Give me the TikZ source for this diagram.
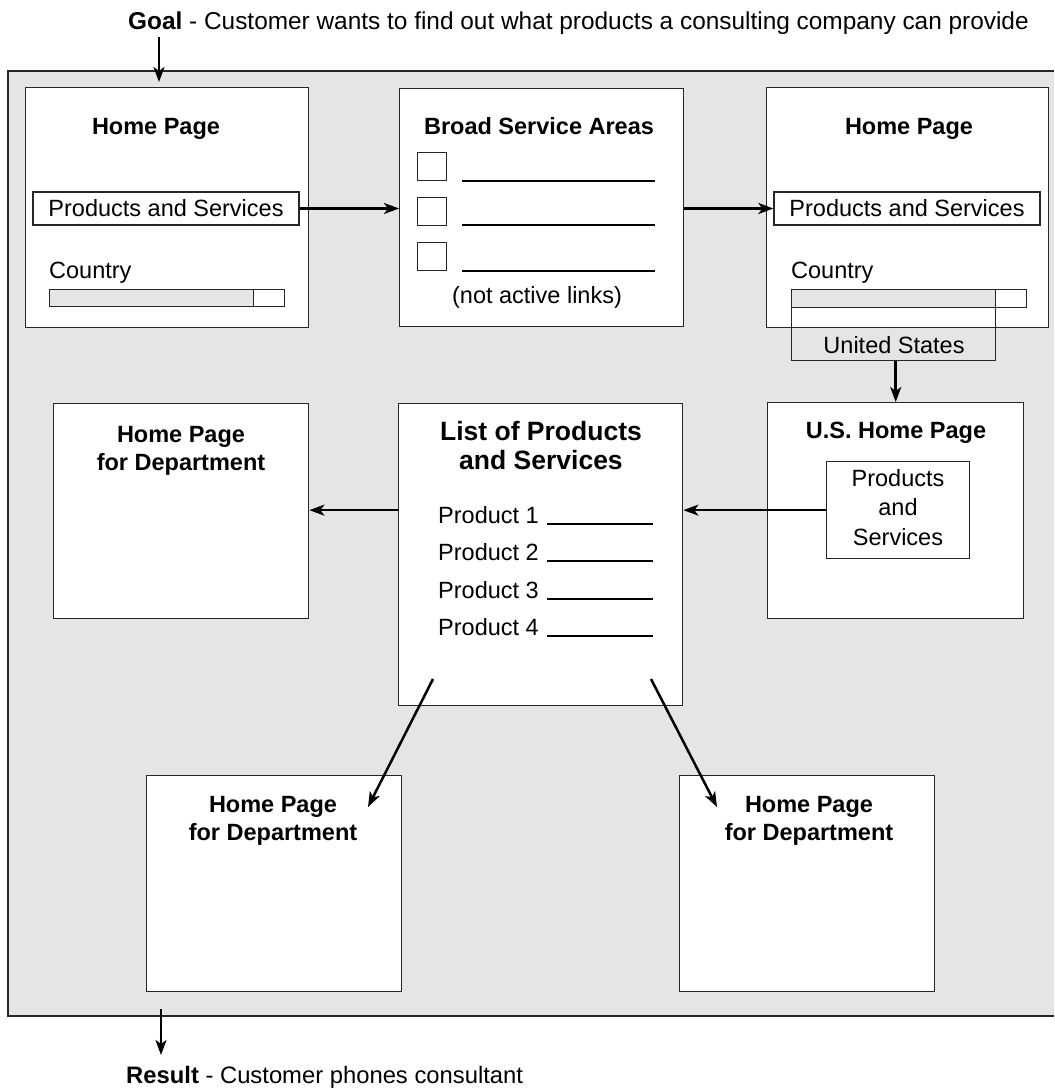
\documentclass[tikz,border=0pt]{standalone}
\usepackage{fontspec}
\setmainfont{Liberation Sans}
\usetikzlibrary{arrows.meta}
\begin{document}
\begin{tikzpicture}[x=1pt,y=-1pt,
  page/.style={draw=black!85, fill=white, line width=1.4pt, inner sep=0pt, anchor=north west},
  wbox/.style={draw=black!85, fill=white, line width=1.3pt, inner sep=0pt},
  bar/.style={draw=black!85, fill=black!10, line width=1.3pt, inner sep=0pt, anchor=north west},
  txt/.style={font=\fontsize{23.5}{28}\selectfont, inner sep=0pt},
  ttl/.style={font=\fontsize{23.5}{28}\selectfont\bfseries, inner sep=0pt, align=center},
  conn/.style={-{Stealth[length=15pt,width=11pt,inset=4pt]}, line width=2.5pt},
  uline/.style={line width=1.3pt}
]
\useasboundingbox (0,0) rectangle (1054,1091);
% outer area
\fill[black!10] (8,71) rectangle (1054,1016);
\draw[line width=1.4pt, black!85] (1054,71) -- (8,71) -- (8,1016) -- (1054,1016);

% Goal
\node[txt, font=\fontsize{24.4}{28}\selectfont, anchor=base west] (goal) at (128,30) {\textbf{Goal} - Customer wants to find out what products a consulting company can provide};
\coordinate (g0) at (159,37);
\coordinate (g1) at (159,82);

% Box 1
\node[page, minimum width=283, minimum height=240] (b1) at (25,87) {};
\node[ttl, anchor=base] (t1) at (156,135) {Home Page};
\node[wbox, minimum width=266, minimum height=33, txt] (ps1) at (166,208.5) {Products and Services};
\node[txt, anchor=base west] (c1) at (49,278) {Country};
\node[bar, minimum width=204, minimum height=17] (bar1) at (49,289) {};
\node[bar, fill=white, minimum width=31, minimum height=17] (btn1) at (253,289) {};

% Box 2
\node[page, minimum width=284, minimum height=238] (b2) at (399,88) {};
\node[ttl, anchor=base] (t2) at (539,135) {Broad Service Areas};
\node[wbox, anchor=north west, minimum width=29, minimum height=28] (cb1) at (417,152) {};
\node[wbox, anchor=north west, minimum width=29, minimum height=28] (cb2) at (417,197) {};
\node[wbox, anchor=north west, minimum width=29, minimum height=28] (cb3) at (417,242) {};
\draw[uline] (462,181) -- (655,181);
\draw[uline] (462,225) -- (655,225);
\draw[uline] (462,271) -- (655,271);
\node[txt, anchor=base] (na) at (537,303) {(not active links)};

% Box 3
\node[page, minimum width=282, minimum height=240] (b3) at (766,87) {};
\node[ttl, anchor=base] (t3) at (909,135) {Home Page};
\node[wbox, minimum width=266, minimum height=33, txt] (ps3) at (907,208.5) {Products and Services};
\node[txt, anchor=base west] (c3) at (791,278) {Country};
\node[bar, minimum width=204, minimum height=18] (bar3) at (791,289) {};
\node[bar, fill=white, minimum width=31, minimum height=18] (btn3) at (995,289) {};
\node[draw=black!85, line width=1.3pt, inner sep=0pt, anchor=north west, minimum width=204, minimum height=53] (us) at (791,307) {};
\node[txt, anchor=base] (ust) at (894,353) {United States};

% US Home Page
\node[page, minimum width=256, minimum height=216] (b4) at (767,402) {};
\node[ttl, anchor=base] (t4) at (896,438) {U.S. Home Page};
\node[wbox, anchor=north west, minimum width=143, minimum height=97] (ps4) at (826,461) {};
\node[txt, anchor=base, align=center, font=\fontsize{23.5}{29.5}\selectfont] (ps4t) at (898,545) {Products\\and\\Services};

% List of products
\node[page, minimum width=284, minimum height=302] (b5) at (398,403) {};
\node[ttl, font=\fontsize{26.5}{28.5}\selectfont\bfseries, anchor=base] (t5) at (541,469) {List of Products\\and Services};
\node[txt, anchor=base west] (p1) at (438,523) {Product 1};
\node[txt, anchor=base west] (p2) at (438,560) {Product 2};
\node[txt, anchor=base west] (p3) at (438,598) {Product 3};
\node[txt, anchor=base west] (p4) at (438,635) {Product 4};
\draw[uline] (547,524) -- (653,524);
\draw[uline] (547,561) -- (653,561);
\draw[uline] (547,599) -- (653,599);
\draw[uline] (547,636) -- (653,636);

% Department pages
\node[page, minimum width=255, minimum height=215] (b6) at (53,403) {};
\node[ttl, anchor=base] (t6) at (181,470) {Home Page\\for Department};
\node[page, minimum width=255, minimum height=216] (b7) at (146,775) {};
\node[ttl, anchor=base] (t7) at (273,840) {Home Page\\for Department};
\node[page, minimum width=255, minimum height=216] (b8) at (679,775) {};
\node[ttl, anchor=base] (t8) at (809,840) {Home Page\\for Department};

% Result
\coordinate (r0) at (161,1009);
\coordinate (r1) at (161,1055);
\node[txt, font=\fontsize{23.8}{28}\selectfont, anchor=base west] (res) at (126,1083) {\textbf{Result} - Customer phones consultant};

% connectors
\draw[conn] (g0) -- (g1);
\draw[conn] (ps1.east) -- (ps1.east -| b2.west);
\draw[conn] (b2.east |- ps3.west) -- (ps3.west);
\draw[conn] (us.south -| b4.north) -- (b4.north);
\draw[conn] (ps4.west) -- (ps4.west -| b5.east);
\draw[conn] (b5.west |- ps4.west) -- (b6.east |- ps4.west);
\coordinate (d1s) at (433,679);
\coordinate (d1e) at (368,807);
\coordinate (d2s) at (651,679);
\coordinate (d2e) at (717,807);
\draw[conn] (d1s) -- (d1e);
\draw[conn] (d2s) -- (d2e);
\draw[conn] (r0) -- (r1);
\end{tikzpicture}
\end{document}
